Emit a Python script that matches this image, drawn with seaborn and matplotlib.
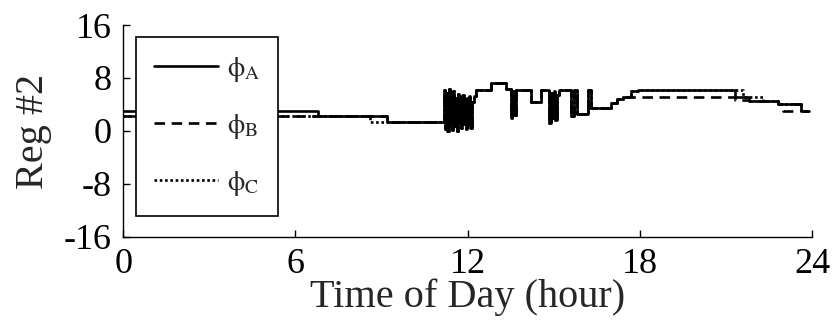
import matplotlib
matplotlib.use("Agg")
import matplotlib.pyplot as plt
import numpy as np
import pandas as pd
import seaborn as sns

# Regulator #2 tap positions per phase (hour of change, tap after change)
hours_a = [0.0, 6.8, 9.2, 11.18, 11.22, 11.26, 11.30, 11.34, 11.38, 11.42, 11.46,
           11.50, 11.54, 11.58, 11.62, 11.66, 11.70, 11.74, 11.78, 11.82, 11.86,
           11.90, 11.94, 11.98, 12.02, 12.06, 12.10, 12.15, 12.22, 12.3, 12.8,
           13.35, 13.5, 13.56, 13.62, 13.7, 14.2, 14.55, 14.85, 14.9, 14.95,
           15.0, 15.05, 15.1, 15.2, 15.6, 15.7, 15.8, 16.2, 16.3, 17.0, 17.2,
           17.4, 17.7, 17.95, 21.3, 21.8, 22.8, 23.6, 23.9]
taps_a = [3.0, 2.2, 1.3, 6.2, 0.3, 5.8, 0.0, 6.3, 1.0, 5.5, 0.2,
          6.0, 0.8, 5.0, 0.0, 5.6, 1.2, 5.2, 0.4, 5.4, 1.0,
          4.8, 0.3, 5.0, 1.2, 5.3, 0.5, 4.3, 5.3, 6.2, 7.2,
          6.4, 1.9, 6.0, 2.4, 6.2, 4.3, 6.2, 1.2, 5.8, 2.0,
          6.0, 1.6, 5.5, 6.2, 2.2, 6.2, 2.5, 6.2, 3.4, 4.2, 4.8,
          5.2, 6.0, 6.2, 5.2, 4.5, 4.0, 3.0, 3.0]

hours_b = [0.0, 9.2, 11.18, 11.22, 11.26, 11.30, 11.34, 11.38, 11.42, 11.46,
           11.50, 11.54, 11.58, 11.62, 11.66, 11.70, 11.74, 11.78, 11.82, 11.86,
           11.90, 11.94, 11.98, 12.02, 12.06, 12.10, 12.15, 12.22, 12.3, 12.8,
           13.35, 13.5, 13.56, 13.62, 13.7, 14.2, 14.55, 14.85, 14.9, 14.95,
           15.0, 15.05, 15.1, 15.2, 15.6, 15.7, 15.8, 16.2, 16.3, 17.0, 17.2,
           17.4, 21.3, 21.8, 22.8, 23.0, 23.35, 23.6, 23.9]
taps_b = [2.2, 1.3, 6.2, 0.3, 5.8, 0.0, 6.3, 1.0, 5.5, 0.2,
          6.0, 0.8, 5.0, 0.0, 5.6, 1.2, 5.2, 0.4, 5.4, 1.0,
          4.8, 0.3, 5.0, 1.2, 5.3, 0.5, 4.3, 5.3, 6.2, 7.2,
          6.4, 1.9, 6.0, 2.4, 6.2, 4.3, 6.2, 1.2, 5.8, 2.0,
          6.0, 1.6, 5.5, 6.2, 2.2, 6.2, 2.5, 6.2, 3.4, 4.2, 4.8,
          5.2, 4.6, 4.5, 4.0, 3.0, 4.0, 3.0, 3.0]

hours_c = [0.0, 8.6, 11.18, 11.22, 11.26, 11.30, 11.34, 11.38, 11.42, 11.46,
           11.50, 11.54, 11.58, 11.62, 11.66, 11.70, 11.74, 11.78, 11.82, 11.86,
           11.90, 11.94, 11.98, 12.02, 12.06, 12.10, 12.15, 12.22, 12.3, 12.8,
           13.35, 13.5, 13.56, 13.62, 13.7, 14.2, 14.55, 14.85, 14.9, 14.95,
           15.0, 15.05, 15.1, 15.2, 15.6, 15.7, 15.8, 16.2, 16.3, 17.0, 17.2,
           17.4, 17.7, 17.95, 21.6, 22.3, 22.8, 23.6, 23.9]
taps_c = [2.2, 1.3, 6.2, 0.3, 5.8, 0.0, 6.3, 1.0, 5.5, 0.2,
          6.0, 0.8, 5.0, 0.0, 5.6, 1.2, 5.2, 0.4, 5.4, 1.0,
          4.8, 0.3, 5.0, 1.2, 5.3, 0.5, 4.3, 5.3, 6.2, 7.2,
          6.4, 1.9, 6.0, 2.4, 6.2, 4.3, 6.2, 1.2, 5.8, 2.0,
          6.0, 1.6, 5.5, 6.2, 2.2, 6.2, 2.5, 6.2, 3.4, 4.2, 4.8,
          5.2, 6.0, 6.2, 5.2, 4.5, 4.0, 3.0, 3.0]

phase_labels = [r"$\mathrm{\phi}_\mathrm{A}$", r"$\mathrm{\phi}_\mathrm{B}$",
                r"$\mathrm{\phi}_\mathrm{C}$"]
x_ticks = [0, 6, 12, 18, 24]
y_ticks = [-16, -8, 0, 8, 16]

sns.set_style("ticks")
plt.rcParams["font.family"] = ["Liberation Serif", "DejaVu Serif"]
plt.rcParams["mathtext.fontset"] = "stix"
plt.rcParams["axes.unicode_minus"] = False

fig = plt.figure(figsize=(8.32, 3.29), dpi=100)
ax = fig.add_axes([0.148, 0.280, 0.828, 0.644])

styles = [dict(linestyle="-"),
          dict(linestyle=(0, (4, 2.5))),
          dict(linestyle=(0, (1, 1)))]
series = [(hours_a, taps_a), (hours_b, taps_b), (hours_c, taps_c)]
for (h, t), lab, st in zip(series, phase_labels, styles):
    sns.lineplot(x=h, y=t, ax=ax, drawstyle="steps-post", color="black",
                 lw=1.9, estimator=None, sort=True, label=lab, **st)

ax.set_xlim(0, 24)
ax.set_ylim(-16, 16)
ax.set_xticks(x_ticks)
ax.set_yticks(y_ticks)
ax.tick_params(direction="in", length=5, width=1, labelsize=26, colors="black")
ax.tick_params(axis="x", pad=8)
ax.tick_params(axis="y", pad=8)
for s in ("top", "right"):
    ax.spines[s].set_visible(False)
for s in ("left", "bottom"):
    ax.spines[s].set_color("black")
    ax.spines[s].set_linewidth(1)
ax.set_xlabel("Time of Day (hour)", fontsize=29, labelpad=-2)
ax.set_ylabel("Reg #2", fontsize=29, labelpad=9)

leg = ax.legend(loc="upper left", bbox_to_anchor=(0.019, 0.943), fontsize=20,
                frameon=True, fancybox=False, framealpha=1, edgecolor="black",
                handlelength=2.3, handletextpad=0.3, labelspacing=1.0,
                borderpad=0.65, borderaxespad=0)
leg.get_frame().set_linewidth(1.2)

fig.savefig("out.png", dpi=100)
